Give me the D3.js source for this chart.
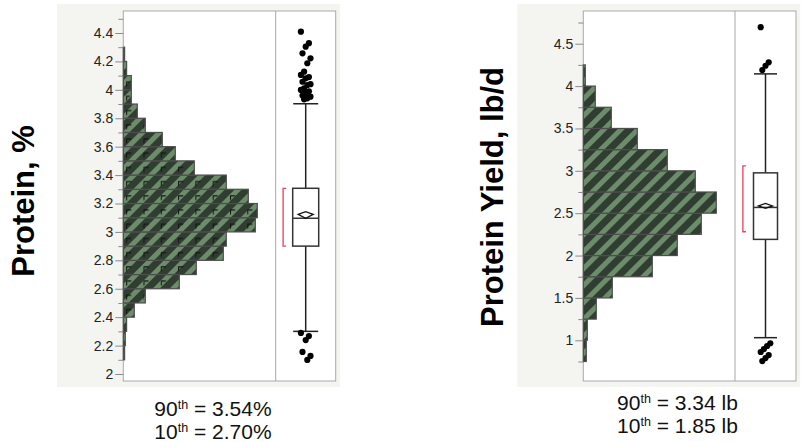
<!DOCTYPE html>
<html><head><meta charset="utf-8">
<script src="https://cdn.jsdelivr.net/npm/d3@7"></script>
<style>
body{margin:0;background:#fff;}
text{font-family:"Liberation Sans",Arial,Helvetica,sans-serif;}
</style>
</head><body>
<svg id="chart" width="804" height="442"></svg>
<script>
// ---------- DATA ----------
// Protein, % : histogram bins (lower edges, width 0.1) and counts
const proteinBinStarts = [2.1,2.2,2.3,2.4,2.5,2.6,2.7,2.8,2.9,3.0,3.1,3.2,3.3,3.4,3.5,3.6,3.7,3.8,3.9,4.0,4.1,4.2];
const proteinCounts    = [1.3,2,3.3,11,22,56,73,100,103,132,134,125,103,71,52,39,22,14,8,8,3.3,1.3];
const proteinTicks     = [2,2.2,2.4,2.6,2.8,3,3.2,3.4,3.6,3.8,4,4.2,4.4];
const proteinMinorTicks= [2.1,2.3,2.5,2.7,2.9,3.1,3.3,3.5,3.7,3.9,4.1,4.3,4.5];
// [lower whisker, Q1, median, Q3, upper whisker]
const proteinBox       = [2.30,2.90,3.096,3.307,3.902];
const proteinMean      = [3.096,3.124,3.143];   // [CI low, mean, CI high]
const proteinShortest  = [2.90,3.307];
const proteinOutliers  = [4.409,4.328,4.304,4.257,4.222,4.187,4.128,4.105,4.09,4.081,4.057,4.04,4.034,4.011,3.999,3.99,3.976,3.96,3.952,3.94,3.933,
                          2.289,2.267,2.239,2.155,2.127,2.099];
const proteinLines     = [["90","th"," = 3.54%"],["10","th"," = 2.70%"]];

// Protein Yield, lb/d : histogram bins (lower edges, width 0.25) and counts
const yieldBinStarts = [0.75,1.0,1.25,1.5,1.75,2.0,2.25,2.5,2.75,3.0,3.25,3.5,3.75,4.0];
const yieldCounts    = [3,4,13,29,69,94,118,133,112,84,54,28,12,2];
const yieldTicks     = [1,1.5,2,2.5,3,3.5,4,4.5];
const yieldMinorTicks= [0.75,1.25,1.75,2.25,2.75,3.25,3.75,4.25,4.75];
const yieldBox       = [1.031,2.191,2.568,2.976,4.144];
const yieldMean      = [2.557,2.586,2.616];
const yieldShortest  = [2.281,3.059];
const yieldOutliers  = [4.695,4.28,4.24,4.19,0.965,0.933,0.897,0.862,0.826,0.79,0.755];
const yieldLines     = [["90","th"," = 3.34 lb"],["10","th"," = 1.85 lb"]];

// ---------- DRAW ----------
const svg = d3.select("#chart");
const defs = svg.append("defs");
const stripe = defs.append("pattern").attr("id","stripes")
  .attr("patternUnits","userSpaceOnUse").attr("width",12).attr("height",12)
  .attr("patternTransform","rotate(45)");
stripe.append("rect").attr("width",12).attr("height",12).attr("fill","#2f3e30");
stripe.append("rect").attr("width",5).attr("height",12).attr("fill","#6d8c6b");

function panel(cfg){
  const top = 11, bottom = 381;
  const left = cfg.plotX, right = cfg.plotX + cfg.plotW, div = cfg.plotX + cfg.histW;
  const g = svg.append("g");
  g.append("rect").attr("x",cfg.bgX).attr("y",4).attr("width",cfg.bgW).attr("height",383).attr("fill","#f4f4f1");
  g.append("rect").attr("x",left).attr("y",top).attr("width",right-left).attr("height",bottom-top)
    .attr("fill","#fff").attr("stroke","#a9a9a9").attr("stroke-width",1);

  const y = d3.scaleLinear().domain(cfg.yDomain).range([bottom, top]);
  const x = d3.scaleLinear().domain([0,152]).range([left, left+152]);

  // histogram bars
  const bars = cfg.bins.map((b,i)=>({lo:b, hi:b+cfg.binW, n:cfg.counts[i]}));
  g.selectAll("rect.bar").data(bars).join("rect").attr("class","bar")
    .attr("x",left).attr("y",d=>y(d.hi)).attr("width",d=>x(d.n)-left).attr("height",d=>y(d.lo)-y(d.hi))
    .attr("fill","url(#stripes)").attr("stroke","#4d4d4d").attr("stroke-width",1.2);

  if(cfg.marks){
    const th = y(0) - y(cfg.binW);
    const pid = "marks"+cfg.id;
    const p = defs.append("pattern").attr("id",pid).attr("patternUnits","userSpaceOnUse")
      .attr("x",left).attr("y",y(4.4)).attr("width",17.3).attr("height",th);
    p.append("path").attr("d","M3.4,11 V6.5 H8").attr("fill","none").attr("stroke","#111").attr("stroke-width",1);
    g.selectAll("rect.mk").data(bars).join("rect").attr("class","mk")
      .attr("x",left).attr("y",d=>y(d.hi)).attr("width",d=>Math.max(0,x(d.n)-left-1.5)).attr("height",d=>y(d.lo)-y(d.hi))
      .attr("fill","url(#"+pid+")");
  }

  // divider
  g.append("line").attr("x1",div).attr("x2",div).attr("y1",top).attr("y2",bottom).attr("stroke","#a9a9a9");

  // axes
  const ax = g.append("g").attr("transform",`translate(${left},0)`)
    .call(d3.axisLeft(y).tickValues(cfg.ticks).tickSize(8).tickPadding(2).tickFormat(d3.format("~g")));
  ax.select(".domain").remove();
  ax.selectAll("line").attr("stroke","#8a8a8a");
  ax.selectAll("text").attr("font-size",14).attr("fill","#222").style("font-family","'Liberation Sans',Arial,sans-serif");
  const mx = g.append("g").attr("transform",`translate(${left},0)`)
    .call(d3.axisLeft(y).tickValues(cfg.minor).tickSize(5).tickFormat(""));
  mx.select(".domain").remove();
  mx.selectAll("line").attr("stroke","#8a8a8a");

  // box plot
  const cx = (div + right)/2, bw = cfg.boxW;
  const [lw,q1,med,q3,uw] = cfg.box;
  g.append("line").attr("x1",cx).attr("x2",cx).attr("y1",y(uw)).attr("y2",y(lw)).attr("stroke","#222").attr("stroke-width",1.5);
  [lw,uw].forEach(v=>g.append("line").attr("x1",cx-bw/2+0.5).attr("x2",cx+bw/2-0.5).attr("y1",y(v)).attr("y2",y(v))
      .attr("stroke","#222").attr("stroke-width",1.5));
  g.append("rect").attr("x",cx-bw/2).attr("y",y(q3)).attr("width",bw).attr("height",y(q1)-y(q3))
    .attr("fill","#fff").attr("stroke","#333").attr("stroke-width",1.5);
  g.append("line").attr("x1",cx-bw/2).attr("x2",cx+bw/2).attr("y1",y(med)).attr("y2",y(med)).attr("stroke","#333").attr("stroke-width",1.5);
  const dw = bw*0.29;
  const [mlo,mm,mhi] = cfg.mean;
  g.append("path").attr("d",`M${cx-dw},${y(mm)} L${cx},${y(mhi)} L${cx+dw},${y(mm)} L${cx},${y(mlo)} Z`)
    .attr("fill","none").attr("stroke","#111").attr("stroke-width",1.3);
  // shortest half bracket
  const bx = cx - 22.6;
  g.append("path").attr("d",`M${bx+3},${y(cfg.shortest[1])} H${bx} V${y(cfg.shortest[0])} H${bx+3}`)
    .attr("fill","none").attr("stroke","#ea3e57").attr("stroke-width",1.3);
  // outliers
  g.selectAll("circle").data(cfg.outliers).join("circle")
    .attr("cx",(d,i)=>cx + (((i*5)%7)-3)*1.6).attr("cy",d=>y(d)).attr("r",3.1).attr("fill","#000");

  // axis title
  g.append("text").attr("transform",`translate(${cfg.titleX},${cfg.titleY}) rotate(-90)`)
    .attr("text-anchor","middle").attr("font-size",31).attr("font-weight","bold").attr("fill","#000").text(cfg.title);

  // percentile lines
  cfg.lines.forEach((ln,i)=>{
    const t = g.append("text").attr("x",cfg.noteX).attr("y",cfg.noteY + i*22.5).attr("text-anchor","middle")
      .attr("font-size",21).attr("fill","#111");
    t.append("tspan").text(ln[0]);
    t.append("tspan").attr("font-size",12.5).attr("dy",-7).text(ln[1]);
    t.append("tspan").attr("dy",7).text(ln[2]);
  });
}

panel({id:"p", bgX:57, bgW:283, plotX:123.3, plotW:212.4, histW:152.4, yDomain:[1.9507,4.5548], binW:0.1,
  bins:proteinBinStarts, counts:proteinCounts, ticks:proteinTicks, minor:proteinMinorTicks,
  box:proteinBox, mean:proteinMean, shortest:proteinShortest, outliers:proteinOutliers, boxW:26, marks:true,
  title:"Protein, %", titleX:34, titleY:201, lines:proteinLines, noteX:213, noteY:416});

panel({id:"y", bgX:517.3, bgW:283, plotX:583.3, plotW:212.7, histW:151.7, yDomain:[0.5197,4.886], binW:0.25,
  bins:yieldBinStarts, counts:yieldCounts, ticks:yieldTicks, minor:yieldMinorTicks,
  box:yieldBox, mean:yieldMean, shortest:yieldShortest, outliers:yieldOutliers, boxW:24, marks:false,
  title:"Protein Yield, lb/d", titleX:503, titleY:197, lines:yieldLines, noteX:677.5, noteY:410});
</script>
</body></html>
